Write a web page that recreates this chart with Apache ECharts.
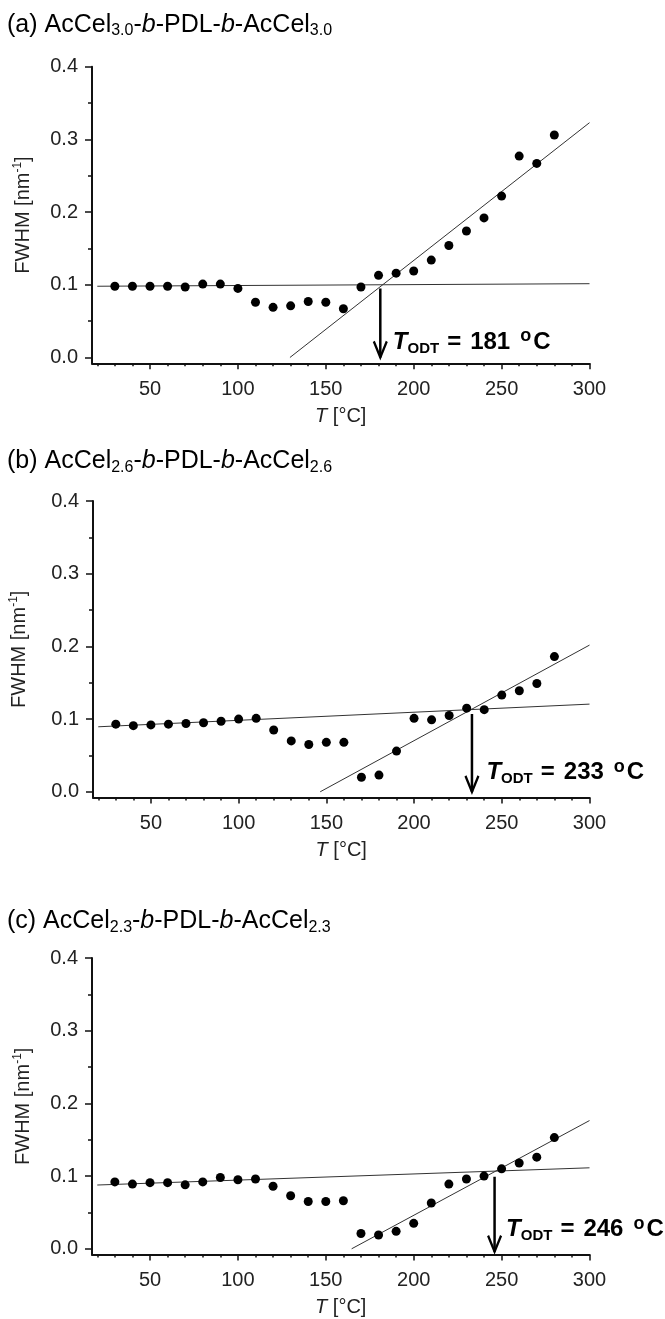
<!DOCTYPE html>
<html><head><meta charset="utf-8">
<script src="https://cdn.jsdelivr.net/npm/echarts@6.0.0/dist/echarts.min.js"></script>
<style>html,body{margin:0;padding:0;background:#fff}#c{width:665px;height:1319px}</style>
</head><body><div id="c"></div>
<script>
// ---------------- data ----------------
const temps = [30,40,50,60,70,80,90,100,110,120,130,140,150,160,170,180,190,200,210,220,230,240,250,260,270,280];
const fwhmA = [0.098,0.098,0.098,0.098,0.097,0.101,0.101,0.095,0.076,0.069,0.071,0.077,0.076,0.067,0.097,0.113,0.116,0.119,0.134,0.154,0.174,0.192,0.222,0.277,0.267,0.306];
const fwhmB = [0.093,0.091,0.092,0.093,0.094,0.095,0.097,0.100,0.101,0.085,0.070,0.065,0.068,0.068,0.020,0.023,0.056,0.101,0.099,0.105,0.115,0.113,0.133,0.139,0.149,0.186];
const fwhmC = [0.092,0.089,0.091,0.091,0.088,0.092,0.098,0.095,0.096,0.086,0.073,0.065,0.065,0.066,0.021,0.019,0.024,0.035,0.063,0.089,0.096,0.100,0.110,0.118,0.126,0.153];
const flatFitA = [[20,0.098],[300,0.1015]];
const steepFitA = [[129.6,0],[300,0.323]];
const flatFitB = [[20,0.0894],[300,0.1206]];
const steepFitB = [[146.5,0],[300,0.2018]];
const flatFitC = [[20,0.0877],[300,0.1114]];
const steepFitC = [[164.7,0],[300,0.1764]];
const todt = [181,233,246];
const arrowA = [[181,0.095],[181,0]];
const arrowB = [[233,0.107],[233,0]];
const arrowC = [[246,0.099],[246,-0.004]];
const panelLetters = ['(a)','(b)','(c)'];
const dsValues = ['3.0','2.6','2.3'];
const xRange = [17,300];
const yRange = [-0.008,0.4];
const xTicks = [50,100,150,200,250,300];
const xMinorTicks = [20,30,40,60,70,80,90,110,120,130,140,160,170,180,190,210,220,230,240,260,270,280,290];
const yTicks = [0,0.1,0.2,0.3,0.4];
const yMinorTicks = [0.05,0.15,0.25,0.35];

const panels = [
  {vals: fwhmA, flat: flatFitA, steep: steepFitA, arrow: arrowA},
  {vals: fwhmB, flat: flatFitB, steep: steepFitB, arrow: arrowB},
  {vals: fwhmC, flat: flatFitC, steep: steepFitC, arrow: arrowC}
];

// ---------------- layout / style ----------------
const FONT = "'Liberation Sans', Arial, Helvetica, sans-serif";
const layout = [
  {top: 66.7, titleTop: 11, yNameGap: 58, labelDist: 12, labelOffset: [0,-15]},
  {top: 501,  titleTop: 447.5, yNameGap: 63, labelDist: 14, labelOffset: [0,-19]},
  {top: 958,  titleTop: 907.5, yNameGap: 58, labelDist: 11, labelOffset: [0,-19]}
];
const GRID_LEFT = 92, GRID_RIGHT = 75.5, GRID_H = 296.6;
const INK = '#111';

const option = {
  animation: false,
  backgroundColor: '#fff',
  textStyle: {fontFamily: FONT},
  title: [], grid: [], xAxis: [], yAxis: [], series: []
};

panels.forEach((p, i) => {
  const L = layout[i];
  option.title.push({
    left: 7, top: L.titleTop, padding: 0,
    text: '{m|' + panelLetters[i] + ' AcCel}{s|' + dsValues[i] + '}{m|-}{i|b}{m|-PDL-}{i|b}{m|-AcCel}{s|' + dsValues[i] + '}',
    textStyle: {
      fontWeight: 'normal', fontFamily: FONT,
      rich: {
        m: {fontSize: 25, color: '#000', fontWeight: 'normal', fontFamily: FONT},
        i: {fontSize: 25, color: '#000', fontWeight: 'normal', fontStyle: 'italic', fontFamily: FONT},
        s: {fontSize: 16, color: '#000', fontWeight: 'normal', fontFamily: FONT, padding: [12,0,0,0]}
      }
    }
  });
  option.grid.push({left: GRID_LEFT, right: GRID_RIGHT, top: L.top, height: GRID_H, containLabel: false});

  // main x axis
  option.xAxis.push({
    type: 'value', gridIndex: i, min: xRange[0], max: xRange[1], position: 'bottom',
    axisLine: {show: true, onZero: false, lineStyle: {color: INK, width: 2}},
    axisTick: {show: true, customValues: xTicks, length: 6, lineStyle: {color: INK, width: 1.5}},
    axisLabel: {show: true, customValues: xTicks, margin: 16, fontSize: 20, color: '#222', fontFamily: FONT},
    splitLine: {show: false},
    name: '{i|T}{a| [°C]}', nameLocation: 'middle', nameGap: 43,
    nameTextStyle: {rich: {
      i: {fontSize: 20, fontStyle: 'italic', color: '#222', fontFamily: FONT},
      a: {fontSize: 20, color: '#222', fontFamily: FONT}
    }}
  });
  // minor x ticks
  option.xAxis.push({
    type: 'value', gridIndex: i, min: xRange[0], max: xRange[1], position: 'bottom',
    axisLine: {show: false, onZero: false},
    axisTick: {show: true, customValues: xMinorTicks, length: 3, lineStyle: {color: INK, width: 1.5}},
    axisLabel: {show: false}, splitLine: {show: false}
  });
  // main y axis
  option.yAxis.push({
    type: 'value', gridIndex: i, min: yRange[0], max: yRange[1], position: 'left',
    axisLine: {show: true, onZero: false, lineStyle: {color: INK, width: 2}},
    axisTick: {show: true, customValues: yTicks, length: 7, lineStyle: {color: INK, width: 1.5}},
    axisLabel: {show: true, customValues: yTicks, margin: 14, fontSize: 20, color: '#222', fontFamily: FONT,
      formatter: v => v.toFixed(1)},
    splitLine: {show: false},
    name: '{a|FWHM [nm}{s|-1}{a|]}', nameLocation: 'middle', nameGap: L.yNameGap, nameRotate: 90,
    nameTextStyle: {rich: {
      a: {fontSize: 20, color: '#222', fontFamily: FONT},
      s: {fontSize: 12, color: '#222', fontFamily: FONT, padding: [0,0,10,0]}
    }}
  });
  // minor y ticks
  option.yAxis.push({
    type: 'value', gridIndex: i, min: yRange[0], max: yRange[1], position: 'left',
    axisLine: {show: false, onZero: false},
    axisTick: {show: true, customValues: yMinorTicks, length: 4, lineStyle: {color: INK, width: 1.5}},
    axisLabel: {show: false}, splitLine: {show: false}
  });

  const xi = 2 * i, yi = 2 * i;
  const fitStyle = {color: '#333', width: 1};
  option.series.push({type: 'line', xAxisIndex: xi, yAxisIndex: yi, data: p.flat, symbol: 'none', lineStyle: fitStyle, silent: true});
  option.series.push({type: 'line', xAxisIndex: xi, yAxisIndex: yi, data: p.steep, symbol: 'none', lineStyle: fitStyle, silent: true});
  option.series.push({
    type: 'scatter', xAxisIndex: xi, yAxisIndex: yi,
    data: temps.map((t, k) => [t, p.vals[k]]),
    symbol: 'circle', symbolSize: 9, itemStyle: {color: '#000', opacity: 1}, silent: true, z: 5
  });
  // arrow
  option.series.push({
    type: 'line', xAxisIndex: xi, yAxisIndex: yi, silent: true, z: 4,
    lineStyle: {color: '#000', width: 2.5},
    showSymbol: true, showAllSymbol: true,
    data: [
      {value: p.arrow[0], symbol: 'none'},
      {value: p.arrow[1], symbol: 'path://M0,0L7,17L14,0', symbolSize: [13, 16], symbolKeepAspect: false,
        symbolOffset: [0, '-50%'],
        itemStyle: {color: 'rgba(0,0,0,0)', borderColor: '#000', borderWidth: 2.5, opacity: 1}}
    ]
  });
  // annotation text
  const bold = {fontWeight: 'bold', color: '#000', fontFamily: FONT};
  option.series.push({
    type: 'scatter', xAxisIndex: xi, yAxisIndex: yi, silent: true, z: 6,
    symbolSize: 1, itemStyle: {color: 'rgba(0,0,0,0)', opacity: 1},
    data: [[todt[i], 0]],
    label: {
      show: true, position: 'right', distance: L.labelDist, offset: L.labelOffset, opacity: 1,
      formatter: '{t|T}{s|ODT}{e|=}{n|' + todt[i] + '}{o|o}{c|C}',
      rich: {
        t: Object.assign({fontSize: 24, fontStyle: 'italic'}, bold),
        s: Object.assign({fontSize: 15, padding: [12,0,0,0]}, bold),
        e: Object.assign({fontSize: 24, padding: [0,9,0,8]}, bold),
        n: Object.assign({fontSize: 24}, bold),
        o: Object.assign({fontSize: 18, padding: [0,2,12,10]}, bold),
        c: Object.assign({fontSize: 24}, bold)
      }
    }
  });
});

const chart = echarts.init(document.getElementById('c'), null, {renderer: 'canvas'});
chart.setOption(option);
</script>
</body></html>
